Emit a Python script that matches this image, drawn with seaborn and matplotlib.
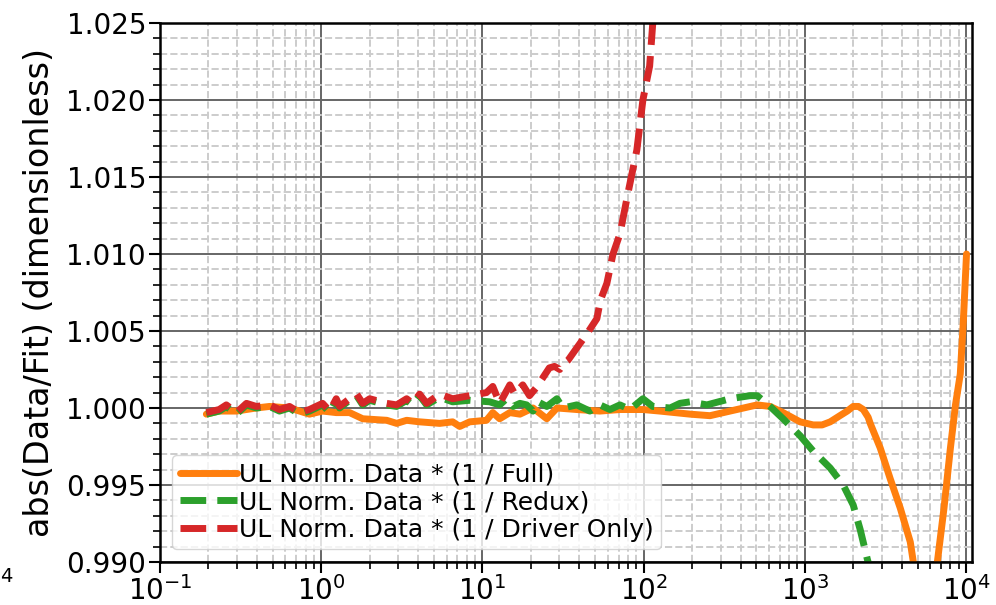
import numpy as np
import pandas as pd
import matplotlib
matplotlib.use("Agg")
import matplotlib.pyplot as plt
import seaborn as sns
from matplotlib.ticker import MultipleLocator, FormatStrFormatter, LogLocator

# Full fit
full_x = [0.194, 0.233, 0.298, 0.396, 0.478, 0.636, 0.846, 1.02, 1.24, 1.50, 1.81,
          2.55, 2.94, 3.39, 4.08, 5.43, 6.54, 7.23, 8.34, 10.6, 11.6, 12.8, 14.8,
          17.1, 20.6, 25.1, 29.0, 38.5, 53.6, 71.3, 99, 126, 194, 258, 344, 506,
          609, 733, 935, 1127, 1280, 1437, 1650, 1833, 1996, 2150, 2304, 2470,
          2545, 2937, 3388, 3909, 4510, 4710, 5180, 5620, 6080, 6640, 7300, 8000,
          8600, 9210, 9610, 10070]
full_y = [0.9996, 0.9998, 0.9998, 1.0000, 1.0001, 1.0000, 0.9996, 0.9998, 0.9997,
          0.9997, 0.9993, 0.9992, 0.9990, 0.9992, 0.9991, 0.9990, 0.9991, 0.9988,
          0.9991, 0.9992, 0.9997, 0.9993, 0.9997, 0.9996, 1.0000, 0.9993, 1.0000,
          0.9999, 0.9998, 0.9999, 0.9999, 0.9998, 0.9996, 0.9995, 0.9998, 1.0002,
          1.0001, 0.9997, 0.9991, 0.9989, 0.9989, 0.9991, 0.9995, 0.9998, 1.0001,
          1.0001, 0.9999, 0.9994, 0.9990, 0.9974, 0.9954, 0.9935, 0.9913, 0.9900,
          0.9885, 0.9878, 0.9882, 0.9900, 0.9935, 0.9974, 1.0002, 1.0022, 1.0055,
          1.0100]

# Redux fit
redux_x = [0.194, 0.233, 0.258, 0.298, 0.344, 0.396, 0.478, 0.551, 0.636, 0.733,
           0.846, 1.02, 1.13, 1.24, 1.30, 1.50, 1.66, 1.81, 2.0, 2.55, 2.94, 3.39,
           3.69, 4.08, 4.51, 5.43, 6.54, 8.34, 11.1, 12.8, 14.1, 15.5, 17.1, 18.8,
           20.6, 22.1, 25.1, 29.0, 31.6, 38.5, 46.4, 53.6, 61.8, 71.3, 82.2, 99,
           114, 146, 168, 194, 247, 344, 457, 506, 609, 733, 935, 1127, 1437, 1730,
           1996, 2206, 2440, 2620]
redux_y = [0.9996, 0.9998, 1.0001, 0.9996, 1.0002, 1.0000, 1.0001, 0.9998, 1.0000,
           0.9996, 0.9998, 1.0002, 0.9997, 1.0005, 1.0000, 1.0005, 1.0008, 1.0002,
           1.0005, 1.0002, 1.0001, 1.0005, 1.0002, 1.0008, 1.0002, 1.0007, 1.0004,
           1.0005, 1.0004, 1.0002, 1.0006, 1.0001, 1.0003, 1.0002, 0.9998, 1.0004,
           1.0001, 1.0006, 1.0000, 1.0002, 0.9998, 1.0002, 0.9999, 1.0002, 0.9999,
           1.0006, 1.0001, 1.0000, 1.0003, 1.0004, 1.0002, 1.0006, 1.0008, 1.0008,
           1.0001, 0.9993, 0.9982, 0.9972, 0.9961, 0.9950, 0.9937, 0.9921, 0.9902,
           0.9890]

# Driver only fit
driver_x = [0.194, 0.233, 0.258, 0.298, 0.344, 0.396, 0.478, 0.551, 0.636, 0.733,
            0.846, 1.02, 1.13, 1.24, 1.30, 1.50, 1.66, 1.81, 2.0, 2.55, 2.94, 3.39,
            3.69, 4.08, 4.51, 5.43, 6.54, 8.34, 10.6, 11.6, 12.8, 14.8, 15.9, 17.8,
            19.6, 21.5, 23.5, 26, 28, 30.2, 32, 34, 38.5, 44.4, 51.3, 54, 59.2, 64.6,
            71.3, 79.8, 90.8, 99, 109, 114, 120]
driver_y = [0.9997, 0.9999, 1.0002, 0.9997, 1.0003, 1.0001, 1.0002, 0.9999, 1.0001,
            0.9997, 0.9999, 1.0003, 0.9998, 1.0006, 1.0001, 1.0006, 1.0009, 1.0003,
            1.0006, 1.0003, 1.0002, 1.0006, 1.0003, 1.0009, 1.0003, 1.0009, 1.0006,
            1.0008, 1.0010, 1.0014, 1.0003, 1.0015, 1.0009, 1.0015, 1.0008, 1.0013,
            1.0019, 1.0026, 1.0027, 1.0025, 1.0029, 1.0031, 1.0039, 1.0048, 1.0058,
            1.0070, 1.0081, 1.0100, 1.0113, 1.0139, 1.01675, 1.0200, 1.0222, 1.0250,
            1.0275]

labels = ["UL Norm. Data * (1 / Full)",
          "UL Norm. Data * (1 / Redux)",
          "UL Norm. Data * (1 / Driver Only)"]

sns.set_style("ticks")
plt.rcParams["font.family"] = ["DejaVu Sans"]
plt.rcParams["text.color"] = "black"
plt.rcParams["axes.labelcolor"] = "black"
plt.rcParams["xtick.color"] = "black"
plt.rcParams["ytick.color"] = "black"

fig = plt.figure(figsize=(9.96, 6.05), dpi=100)
ax = fig.add_axes([0.1606, 0.0711, 0.8153, 0.8909])

sns.lineplot(x=full_x, y=full_y, ax=ax, color="#ff7f0e", lw=5, label=labels[0])
sns.lineplot(x=redux_x, y=redux_y, ax=ax, color="#2ca02c", lw=5, ls="--", label=labels[1])
sns.lineplot(x=driver_x, y=driver_y, ax=ax, color="#d62728", lw=5, ls="--", label=labels[2])

ax.set_xscale("log")
ax.set_xlim(0.1, 10 ** 4.037)
ax.set_ylim(0.990, 1.025)
ax.yaxis.set_major_locator(MultipleLocator(0.005))
ax.yaxis.set_minor_locator(MultipleLocator(0.001))
ax.yaxis.set_major_formatter(FormatStrFormatter("%.3f"))
ax.xaxis.set_major_locator(LogLocator(base=10, numticks=10))
ax.xaxis.set_minor_locator(LogLocator(base=10, subs=np.arange(2, 10), numticks=20))

ax.grid(which="major", color="#666666", lw=1.4, ls="-")
ax.grid(which="minor", color="#cccccc", lw=1.4, ls="--")
ax.set_axisbelow(True)

for s in ax.spines.values():
    s.set_visible(True)
    s.set_color("black")
    s.set_linewidth(1.8)

ax.tick_params(which="major", labelsize=20, length=8, width=1.5, direction="out", pad=2)
ax.tick_params(which="minor", length=5, width=1.2, direction="out")
ax.set_ylabel("abs(Data/Fit) (dimensionless)", fontsize=24, labelpad=7)
ax.set_xlabel("")

ax.legend(loc="lower left", fontsize=18, handlelength=2.3, handletextpad=0.05,
          labelspacing=0.15, borderpad=0.3, borderaxespad=0.5, framealpha=0.8)

# clipped tick label from a neighbouring panel
fig.text(0.014, 0.057, "$10^{4}$", ha="right", va="top", fontsize=20)

fig.savefig("out.png", dpi=100)
